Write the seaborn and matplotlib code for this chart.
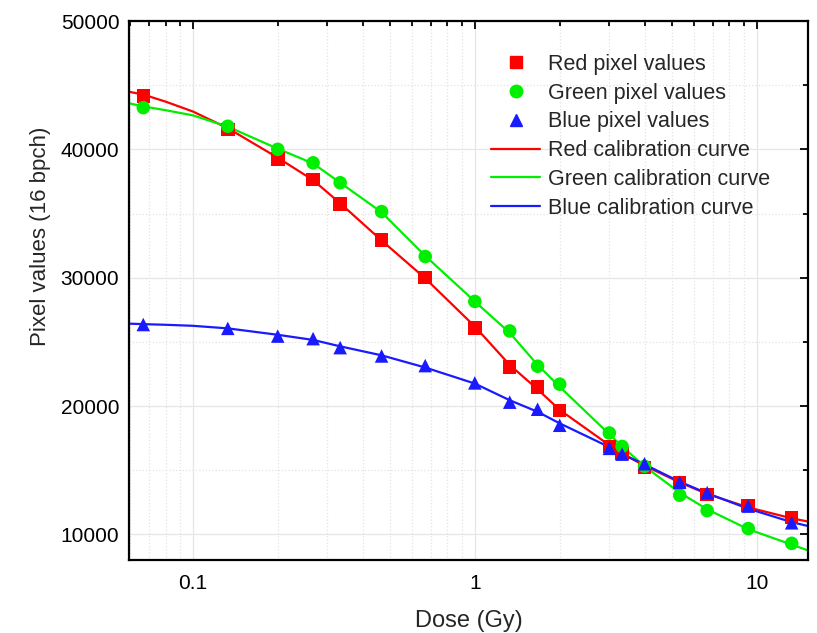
import numpy as np
import pandas as pd
import seaborn as sns
import matplotlib
matplotlib.use('Agg')
import matplotlib.pyplot as plt
from matplotlib.ticker import FixedLocator, LogLocator, NullFormatter, FixedFormatter, MultipleLocator
from matplotlib.lines import Line2D

# measured doses (Gy)
dose = [0.0667, 0.133, 0.2, 0.267, 0.333, 0.467, 0.667, 1.0, 1.33, 1.67,
        2.0, 3.0, 3.33, 4.0, 5.33, 6.67, 9.33, 13.3]

# pixel values per channel
red_pv = [44150, 41550, 39250, 37650, 35750, 32950, 30000, 26100, 23050, 21500,
          19650, 16850, 16300, 15200, 14050, 13100, 12250, 11300]
green_pv = [43250, 41800, 40000, 38950, 37400, 35150, 31650, 28150, 25850, 23100,
            21700, 17900, 16850, 15300, 13050, 11850, 10450, 9300]
blue_pv = [26350, 26050, 25450, 25250, 24550, 23900, 23150, 21800, 20300, 19750,
           18500, 16700, 16250, 15500, 14050, 13250, 12200, 10900]

# calibration curves
curve_dose = [0.059, 0.0667, 0.08, 0.1, 0.133, 0.2, 0.267, 0.333, 0.467, 0.667, 1.0,
              1.33, 1.67, 2.0, 3.0, 3.33, 4.0, 5.33, 6.67, 9.33, 13.3, 15.2]
red_curve = [44500, 44270, 43720, 42950, 41650, 39350, 37600, 35800, 32900, 29950, 26200,
             23200, 21300, 19700, 16950, 16300, 15350, 14050, 13150, 12100, 11250, 11000]
green_curve = [43600, 43350, 43050, 42650, 41770, 40050, 38900, 37400, 35100, 31700, 28150,
               25700, 23200, 21500, 17800, 16850, 15300, 13250, 11950, 10400, 9200, 8750]
blue_curve = [26420, 26380, 26330, 26250, 26050, 25550, 25150, 24650, 23950, 23000, 21750,
              20450, 19550, 18650, 16800, 16250, 15450, 14100, 13200, 12000, 10950, 10650]

sns.set_style('white')
plt.rcParams['font.family'] = ['Liberation Sans', 'DejaVu Sans']

RED, GREEN, BLUE = '#ff0000', '#00ee00', '#1a1aff'

n = len(curve_dose)
pts = pd.DataFrame({'dose': dose * 3,
                    'pv': red_pv + green_pv + blue_pv,
                    'ch': ['Red'] * 18 + ['Green'] * 18 + ['Blue'] * 18})
crv = pd.DataFrame({'dose': curve_dose * 3,
                    'pv': red_curve + green_curve + blue_curve,
                    'ch': ['Red'] * n + ['Green'] * n + ['Blue'] * n})

fig = plt.figure(figsize=(8.17, 6.33), dpi=100)
ax = fig.add_axes([0.158, 0.1153, 0.831, 0.8515])

pal = {'Red': RED, 'Green': GREEN, 'Blue': BLUE}
sns.lineplot(data=crv, x='dose', y='pv', hue='ch', palette=pal, sort=False,
             linewidth=1.6, legend=False, ax=ax, zorder=2)
sns.scatterplot(data=pts, x='dose', y='pv', hue='ch', style='ch', palette=pal,
                markers={'Red': 's', 'Green': 'o', 'Blue': '^'},
                s=95, linewidth=0, legend=False, ax=ax, zorder=3)

ax.set_xscale('log')
ax.set_xlim(0.0594, 15.2)
ax.set_ylim(8000, 50000)

ax.xaxis.set_major_locator(FixedLocator([0.1, 1, 10]))
ax.xaxis.set_major_formatter(FixedFormatter(['0.1', '1', '10']))
ax.xaxis.set_minor_locator(LogLocator(base=10, subs=np.arange(2, 10)))
ax.xaxis.set_minor_formatter(NullFormatter())
ax.yaxis.set_major_locator(MultipleLocator(10000))
ax.yaxis.set_minor_locator(MultipleLocator(5000))

ax.grid(which='major', color='#e6e6e6', linewidth=0.9, linestyle='-')
ax.grid(which='minor', color='#e3e3e3', linewidth=0.9, linestyle=':')
ax.set_axisbelow(True)

for sp in ax.spines.values():
    sp.set_color('black')
    sp.set_linewidth(1.6)
ax.tick_params(which='both', direction='in', top=True, right=True, colors='black',
               labelsize=15, width=1.3)
ax.tick_params(which='major', length=6)
ax.tick_params(which='minor', length=3.5)
ax.tick_params(axis='y', pad=7)
ax.tick_params(axis='x', pad=10)

ax.set_xlabel('Dose (Gy)', fontsize=17, labelpad=12)
ax.set_ylabel('Pixel values (16 bpch)', fontsize=16)
ax.yaxis.set_label_coords(-0.115, 0.601)

handles = [
    Line2D([], [], marker='s', color=RED, linestyle='none', markersize=8),
    Line2D([], [], marker='o', color=GREEN, linestyle='none', markersize=9),
    Line2D([], [], marker='^', color=BLUE, linestyle='none', markersize=9),
    Line2D([], [], color=RED, linewidth=1.6),
    Line2D([], [], color=GREEN, linewidth=1.6),
    Line2D([], [], color=BLUE, linewidth=1.6),
]
labels = ['Red pixel values', 'Green pixel values', 'Blue pixel values',
          'Red calibration curve', 'Green calibration curve', 'Blue calibration curve']
ax.legend(handles, labels, loc='upper left', bbox_to_anchor=(0.533, 0.939),
          frameon=False, fontsize=15.5, handlelength=2.3, handletextpad=0.35,
          labelspacing=0.36, borderpad=0, borderaxespad=0)

fig.savefig('out.png', dpi=100)
